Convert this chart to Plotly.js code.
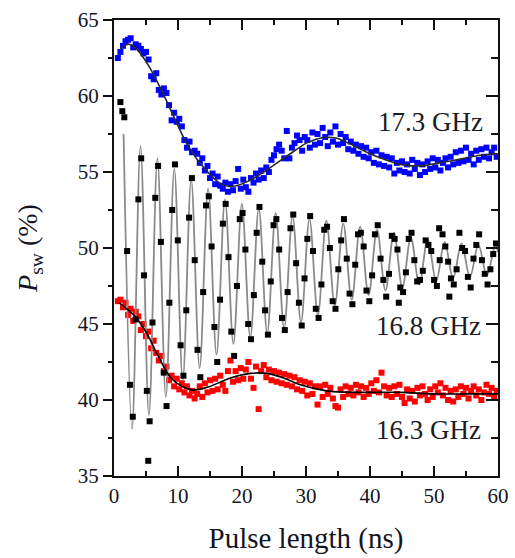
<!DOCTYPE html>
<html>
<head>
<meta charset="utf-8">
<script src="https://cdn.plot.ly/plotly-3.0.1.min.js"></script>
<style>
  html, body { margin: 0; padding: 0; background: #fff; }
  #chart { width: 515px; height: 558px; }
</style>
</head>
<body>
<div id="chart"></div>
<script>
// Switching probability vs. pulse length at three drive frequencies.

// Shared pulse-length grid (ns) for the 17.3 GHz and 16.3 GHz measurements
const pulseGrid = [
  0.6, 1.0, 1.4, 1.8, 2.2, 2.6, 3.0, 3.4, 3.8, 4.2, 4.6, 5.0, 5.4, 5.8, 6.2, 6.6, 7.0, 7.4, 7.8, 8.2,
  8.6, 9.0, 9.4, 9.8, 10.2, 10.6, 11.0, 11.4, 11.8, 12.2, 12.6, 13.0, 13.4, 13.8, 14.2, 14.6, 15.0, 15.4, 15.8, 16.2,
  16.6, 17.0, 17.4, 17.8, 18.2, 18.6, 19.0, 19.4, 19.8, 20.2, 20.6, 21.0, 21.4, 21.8, 22.2, 22.6, 23.0, 23.4, 23.8, 24.2,
  24.6, 25.0, 25.4, 25.8, 26.2, 26.6, 27.0, 27.4, 27.8, 28.2, 28.6, 29.0, 29.4, 29.8, 30.2, 30.6, 31.0, 31.4, 31.8, 32.2,
  32.6, 33.0, 33.4, 33.8, 34.2, 34.6, 35.0, 35.4, 35.8, 36.2, 36.6, 37.0, 37.4, 37.8, 38.2, 38.6, 39.0, 39.4, 39.8, 40.2,
  40.6, 41.0, 41.4, 41.8, 42.2, 42.6, 43.0, 43.4, 43.8, 44.2, 44.6, 45.0, 45.4, 45.8, 46.2, 46.6, 47.0, 47.4, 47.8, 48.2,
  48.6, 49.0, 49.4, 49.8, 50.2, 50.6, 51.0, 51.4, 51.8, 52.2, 52.6, 53.0, 53.4, 53.8, 54.2, 54.6, 55.0, 55.4, 55.8, 56.2,
  56.6, 57.0, 57.4, 57.8, 58.2, 58.6, 59.0, 59.4, 59.8
];

// 17.3 GHz measured switching probability (%)
const psw173 = [
  62.5, 62.9, 63.3, 63.6, 63.7, 63.8, 63.2, 63.4, 63.3, 63.1, 62.8, 62.9, 62.4, 61.3, 61.1, 61.5, 60.4, 60.1, 60.5, 60.2,
  59.4, 58.4, 58.9, 58.3, 58.5, 58.0, 57.1, 56.6, 57.0, 56.3, 56.4, 56.2, 55.6, 55.9, 55.1, 55.4, 54.6, 54.9, 54.2, 54.7,
  54.1, 53.9, 54.3, 53.7, 54.2, 53.8, 54.4, 55.2, 53.9, 54.5, 54.0, 53.7, 54.6, 54.3, 54.9, 54.5, 55.1, 54.6, 55.3, 55.0,
  55.8, 56.1, 56.5, 56.8, 56.4, 55.9, 57.7, 55.9, 56.6, 56.9, 57.4, 57.1, 56.4, 57.3, 57.1, 56.6, 57.6, 56.8, 57.5, 56.9,
  57.9, 57.3, 56.7, 57.6, 57.0, 58.0, 56.8, 57.5, 56.9, 57.3, 56.5, 57.0, 56.4, 56.8, 56.2, 56.7, 56.0, 56.6, 55.9, 56.3,
  55.6, 56.4, 55.5, 56.1, 55.4, 56.0, 55.3, 55.9, 54.9, 55.6, 55.1, 55.7, 55.0, 55.5, 54.9, 55.8, 55.2, 55.6, 54.8, 55.5,
  55.0, 55.7, 55.2, 55.9, 55.3, 55.8, 55.1, 55.6, 55.9, 55.3, 56.0, 55.5, 56.3, 55.6, 56.4, 55.7, 56.6, 55.8, 56.2, 55.5,
  56.4, 55.8, 56.5, 56.0, 56.6, 55.9, 56.3, 56.6, 56.0
];

// 16.3 GHz measured switching probability (%)
const psw163 = [
  46.5, 46.6, 46.1, 46.4, 45.6, 46.0, 45.2, 45.8, 45.5, 44.6, 45.0, 44.2, 44.5, 43.4, 43.9, 43.1, 42.6, 42.9, 41.9, 42.2,
  41.3, 41.6, 40.9, 41.4, 40.7, 41.1, 40.5, 40.9, 40.3, 40.6, 40.1, 40.4, 40.9, 40.2, 41.1, 40.5, 41.3, 40.6, 41.4, 40.7,
  41.6, 41.0, 40.6, 41.9, 42.6, 41.2, 41.9, 41.3, 42.1, 41.4, 42.0, 42.5, 41.4, 40.8, 42.2, 39.4, 41.9, 42.3, 41.5, 42.0,
  41.3, 41.9, 41.2, 41.8, 41.1, 41.7, 41.0, 41.6, 40.9, 41.5, 40.7, 41.3, 40.6, 41.2, 40.3, 41.1, 40.4, 40.9, 39.7, 40.9,
  40.2, 41.0, 40.4, 40.8, 40.1, 39.6, 39.5, 40.7, 40.2, 40.9, 40.4, 40.8, 40.3, 41.0, 40.5, 40.9, 40.2, 40.8, 40.4, 41.1,
  40.6, 41.3, 40.5, 41.8, 40.9, 40.3, 40.8, 40.2, 40.9, 40.4, 41.0, 40.2, 39.8, 40.7, 40.1, 40.6, 39.9, 40.8, 40.3, 40.9,
  40.4, 40.0, 40.7, 40.2, 40.9, 40.5, 41.1, 40.3, 40.8, 40.0, 40.6, 39.9, 40.7, 40.2, 40.9, 40.4, 40.8, 40.1, 40.6, 40.9,
  40.3, 40.7, 40.0, 40.5, 41.0, 40.4, 40.8, 40.2, 40.6
];

// 16.8 GHz measured points (Rabi-like oscillation)
const pulse168 = [
  1.0, 1.3, 1.61, 2.05, 2.49, 2.93, 3.37, 3.81, 4.25, 4.69, 5.13, 5.35, 5.57, 6.01, 6.45, 6.89, 7.33, 7.77, 8.21, 8.65,
  9.09, 9.53, 9.97, 10.41, 10.85, 11.29, 11.73, 12.17, 12.61, 13.05, 13.49, 13.93, 14.37, 14.81, 15.25, 15.69, 16.13, 16.57, 17.01, 17.45,
  17.89, 18.33, 18.77, 19.21, 19.65, 20.09, 20.53, 20.97, 21.41, 21.85, 22.29, 22.73, 23.17, 23.61, 24.05, 24.49, 24.93, 25.37, 25.81, 26.25,
  26.69, 27.13, 27.57, 28.01, 28.45, 28.89, 29.33, 29.77, 30.21, 30.65, 31.09, 31.53, 31.97, 32.41, 32.85, 33.29, 33.73, 34.17, 34.61, 35.05,
  35.49, 35.93, 36.37, 36.81, 37.25, 37.69, 38.13, 38.57, 39.01, 39.45, 39.89, 40.33, 40.77, 41.21, 41.65, 42.09, 42.53, 42.97, 43.41, 43.85,
  44.29, 44.5, 44.73, 45.17, 45.61, 46.05, 46.49, 46.93, 47.37, 47.81, 48.25, 48.69, 49.13, 49.57, 50.01, 50.45, 50.8, 50.89, 51.33, 51.77,
  52.21, 52.4, 52.65, 53.09, 53.53, 53.97, 54.41, 54.85, 55.29, 55.73, 56.17, 56.61, 57.05, 57.49, 57.93, 58.37, 58.81, 59.25, 59.69
];
const psw168 = [
  59.6, 59.0, 58.6, 49.8, 41.0, 38.9, 45.3, 53.2, 55.9, 48.2, 40.6, 36.0, 38.6, 45.1, 53.3, 55.4, 50.4, 41.8, 39.6, 46.4,
  52.5, 55.5, 50.5, 43.6, 41.6, 45.9, 52.0, 54.6, 49.2, 43.3, 41.5, 47.1, 52.8, 53.4, 50.1, 44.8, 42.5, 46.6, 51.6, 52.9,
  49.4, 44.5, 42.9, 47.5, 51.9, 52.3, 49.9, 45.0, 44.0, 46.9, 51.0, 52.7, 49.1, 45.9, 44.3, 47.8, 51.5, 51.9, 49.9, 45.4,
  44.6, 47.1, 51.3, 52.2, 49.0, 46.4, 44.9, 48.0, 50.6, 52.1, 49.8, 46.0, 45.4, 47.6, 51.2, 51.4, 50.0, 46.5, 46.0, 48.6,
  50.5, 51.9, 49.3, 47.0, 46.3, 48.9, 50.9, 51.0, 50.1, 47.2, 46.5, 48.2, 50.9, 51.5, 49.3, 47.9, 46.8, 48.3, 50.8, 50.6,
  49.9, 46.4, 47.4, 47.1, 48.4, 50.6, 51.0, 49.2, 47.8, 47.9, 48.5, 50.5, 50.2, 49.8, 47.9, 47.5, 51.3, 49.2, 50.9, 50.1,
  49.1, 46.8, 48.0, 47.6, 48.6, 51.0, 50.0, 49.8, 48.1, 47.4, 49.3, 50.2, 50.9, 49.2, 48.3, 47.6, 48.6, 49.6, 50.3
];

// Fitted curves
const fit173x = [1.0, 2.3, 3.5, 5.4, 7.5, 9.5, 11.6, 14.2, 16.8, 18.5, 21.0, 24.1, 27.2, 30.3, 32.5, 34.5, 36.9, 39.5, 42.1, 44.7, 47.8, 50.9, 54.1, 57.2, 60.0];
const fit173y = [63.1, 63.4, 63.1, 62.0, 60.3, 58.5, 56.7, 55.2, 54.2, 54.05, 54.4, 55.2, 56.1, 56.95, 57.25, 57.25, 56.85, 56.3, 55.85, 55.5, 55.4, 55.6, 55.85, 56.1, 56.2];

const fit163x = [0.8, 2.0, 3.3, 5.1, 6.9, 8.8, 10.6, 12.4, 14.7, 18.2, 21.3, 23.9, 26.5, 29.1, 32.0, 34.3, 39.5, 44.7, 49.8, 55.1, 60.0];
const fit163y = [46.4, 46.0, 45.5, 44.4, 42.9, 41.5, 40.9, 40.65, 40.85, 41.45, 41.75, 41.75, 41.45, 41.0, 40.7, 40.55, 40.5, 40.5, 40.4, 40.4, 40.4];

// Turning points of the damped oscillation fit at 16.8 GHz
const fit168x = [
  1.50, 2.82, 4.14, 5.46, 6.78, 8.10, 9.42, 10.74, 12.06, 13.38, 14.70, 16.02, 17.34, 18.66, 19.98, 21.30,
  22.62, 23.94, 25.26, 26.58, 27.90, 29.22, 30.54, 31.86, 33.18, 34.50, 35.82, 37.14, 38.46, 39.78, 41.10,
  42.42, 43.74, 45.06, 46.38, 47.70, 49.02, 50.34, 51.66, 52.98, 54.30, 55.62, 56.94, 58.26, 59.58, 60.0
];
const fit168y = [
  57.5, 38.1, 56.7, 39.0, 55.9, 40.2, 55.2, 41.3, 54.5, 42.1, 53.9, 43.0, 53.2, 43.7, 52.9, 44.1,
  52.6, 44.4, 52.3, 44.7, 52.1, 45.1, 51.9, 45.6, 51.8, 46.2, 51.6, 46.6, 51.4, 46.9, 51.2,
  47.2, 51.0, 47.4, 50.7, 47.6, 50.6, 47.8, 50.4, 48.0, 50.3, 48.1, 50.2, 48.2, 50.2, 49.7
];

const xTicks = [0, 10, 20, 30, 40, 50, 60];
const yTicks = [35, 40, 45, 50, 55, 60, 65];
const seriesLabels = ['17.3 GHz', '16.8 GHz', '16.3 GHz'];

const serif = 'Liberation Serif';
const markerSq = (color) => ({ symbol: 'square', size: 6, color: color, line: { width: 0 } });

const traces = [
  { x: pulseGrid, y: psw163, mode: 'markers', type: 'scatter', marker: markerSq('#ff0000'), hoverinfo: 'skip' },
  { x: fit168x, y: fit168y, mode: 'lines', type: 'scatter',
    line: { color: '#8a8a8a', width: 1.8, shape: 'spline', smoothing: 1 }, hoverinfo: 'skip' },
  { x: pulse168, y: psw168, mode: 'markers', type: 'scatter', marker: markerSq('#000000'), hoverinfo: 'skip' },
  { x: pulseGrid, y: psw173, mode: 'markers', type: 'scatter', marker: markerSq('#0000ff'), hoverinfo: 'skip' },
  { x: fit173x, y: fit173y, mode: 'lines', type: 'scatter', xaxis: 'x2', yaxis: 'y2',
    line: { color: '#2a2a2a', width: 1.6, shape: 'spline', smoothing: 1 }, hoverinfo: 'skip' },
  { x: fit163x, y: fit163y, mode: 'lines', type: 'scatter', xaxis: 'x2', yaxis: 'y2',
    line: { color: '#000000', width: 1.6, shape: 'spline', smoothing: 1 }, hoverinfo: 'skip' }
];

const tickFont = { family: serif, size: 21, color: '#15151f' };

const layout = {
  width: 515, height: 558,
  margin: { l: 114, r: 17, t: 20, b: 82 },
  paper_bgcolor: '#ffffff', plot_bgcolor: '#ffffff',
  showlegend: false,
  font: { family: serif, color: '#111' },
  xaxis: {
    range: [0, 60], tickmode: 'array', tickvals: xTicks, ticktext: xTicks.map(String),
    ticks: 'inside', ticklen: 10, tickwidth: 1.6, tickcolor: '#111',
    minor: { dtick: 5, tick0: 0, ticks: 'inside', ticklen: 5, tickwidth: 1.4, tickcolor: '#111' },
    showline: true, linewidth: 2, linecolor: '#111', showgrid: false, zeroline: false,
    tickfont: tickFont, fixedrange: true,
    title: { text: 'Pulse length (ns)', font: { family: serif, size: 29, color: '#15151f' }, standoff: 20 }
  },
  xaxis2: {
    overlaying: 'x', side: 'top', range: [0, 60], tickmode: 'array', tickvals: xTicks,
    ticks: 'inside', ticklen: 10, tickwidth: 1.6, tickcolor: '#111',
    minor: { dtick: 5, tick0: 0, ticks: 'inside', ticklen: 5, tickwidth: 1.4, tickcolor: '#111' },
    showline: true, linewidth: 2, linecolor: '#111', showgrid: false, zeroline: false,
    showticklabels: false, fixedrange: true
  },
  yaxis: {
    range: [35, 65], tickmode: 'array', tickvals: yTicks, ticktext: yTicks.map(String),
    ticks: 'outside', ticklen: 9, tickwidth: 1.6, tickcolor: '#111',
    minor: { dtick: 2.5, tick0: 35, ticks: 'outside', ticklen: 4, tickwidth: 1.4, tickcolor: '#111' },
    showline: true, linewidth: 2, linecolor: '#111', showgrid: false, zeroline: false,
    tickfont: tickFont, fixedrange: true,
    title: { text: '<i>P</i><sub>sw</sub> (%)', font: { family: serif, size: 28, color: '#15151f' }, standoff: 32 }
  },
  yaxis2: {
    overlaying: 'y', side: 'right', range: [35, 65], tickmode: 'array', tickvals: yTicks,
    ticks: 'inside', ticklen: 12, tickwidth: 1.6, tickcolor: '#111',
    minor: { dtick: 2.5, tick0: 35, ticks: 'inside', ticklen: 7, tickwidth: 1.4, tickcolor: '#111' },
    showline: true, linewidth: 2, linecolor: '#111', showgrid: false, zeroline: false,
    showticklabels: false, fixedrange: true
  },
  annotations: [
    { x: 49.4, y: 58.3, text: seriesLabels[0] },
    { x: 49.1, y: 44.9, text: seriesLabels[1] },
    { x: 49.1, y: 38.0, text: seriesLabels[2] }
  ].map(a => Object.assign({
    xref: 'x', yref: 'y', showarrow: false, xanchor: 'center', yanchor: 'middle',
    font: { family: serif, size: 27, color: '#1c1c24' }
  }, a))
};

Plotly.newPlot('chart', traces, layout, { displayModeBar: false, staticPlot: true });
</script>
</body>
</html>
